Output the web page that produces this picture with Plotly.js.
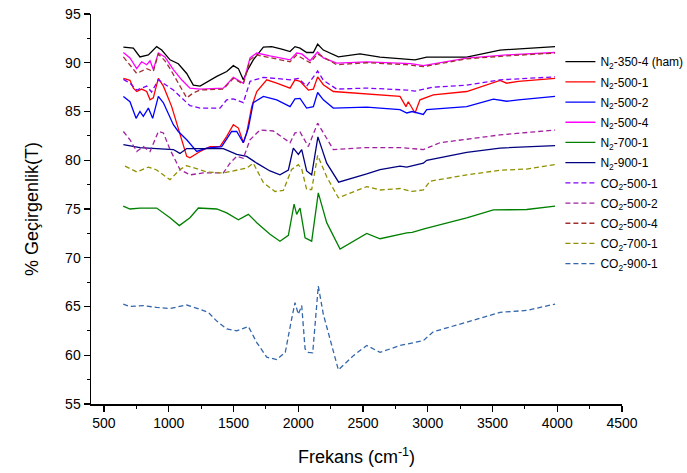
<!DOCTYPE html>
<html>
<head>
<meta charset="utf-8">
<script src="https://cdn.plot.ly/plotly-3.0.1.min.js"></script>
<style>html,body{margin:0;padding:0;background:#fff}#chart{width:687px;height:473px}</style>
</head>
<body>
<div id="chart"></div>
<script>
// Series data (wavenumber cm^-1, transmittance %)
const n2_350_4_x = [650, 727, 778, 843, 907, 946, 1010, 1074, 1139, 1190, 1242, 1306, 1371, 1448, 1499, 1538, 1576, 1615, 1653, 1731, 1795, 1873, 1937, 1975, 2014, 2065, 2117, 2150, 2194, 2310, 2477, 2632, 2902, 2992, 3301, 3558, 3764, 3983];
const n2_350_4_y = [91.6, 91.5, 90.6, 90.8, 91.65, 91.3, 90.3, 89.9, 88.9, 87.7, 87.6, 88.1, 88.6, 89.1, 89.7, 89.4, 88.25, 89.4, 90.3, 91.6, 91.65, 91.4, 91.15, 91.65, 91.5, 91.05, 91.05, 91.9, 91.3, 90.6, 90.9, 90.57, 90.3, 90.57, 90.57, 91.3, 91.5, 91.66];

const n2_500_1_x = [650, 701, 727, 753, 791, 830, 856, 881, 920, 959, 1023, 1087, 1139, 1164, 1242, 1319, 1396, 1448, 1499, 1538, 1576, 1602, 1641, 1680, 1757, 1834, 1937, 1975, 2014, 2078, 2117, 2150, 2194, 2271, 2529, 2786, 2832, 2850, 2902, 2940, 3043, 3301, 3558, 3610, 3700, 3983];
const n2_500_1_y = [88.4, 88.2, 87.4, 87.05, 87.3, 87.05, 86.2, 86.4, 88.4, 87.6, 85.5, 82.8, 80.4, 80.25, 80.9, 81.4, 81.4, 82.45, 83.65, 83.3, 81.8, 82.8, 85.5, 87.05, 88.25, 87.9, 87.4, 88.25, 88.1, 87.2, 87.3, 88.55, 87.75, 87.05, 86.8, 86.55, 85.5, 86.0, 84.85, 86.2, 86.7, 87.05, 88.18, 87.9, 88.1, 88.4];

const n2_500_2_x = [650, 701, 748, 778, 804, 843, 876, 920, 959, 1036, 1074, 1139, 1216, 1293, 1409, 1448, 1486, 1525, 1576, 1615, 1653, 1731, 1834, 1937, 1975, 2014, 2065, 2117, 2150, 2194, 2271, 2529, 2786, 2838, 2880, 2966, 2992, 3301, 3507, 3610, 3700, 3983];
const n2_500_2_y = [86.55, 86.0, 84.3, 85.0, 84.5, 85.35, 84.3, 86.55, 85.9, 83.65, 82.95, 82.1, 80.9, 81.25, 81.4, 82.2, 82.95, 82.95, 81.8, 83.3, 85.9, 86.55, 86.2, 85.5, 86.3, 86.35, 85.35, 85.5, 86.95, 86.2, 85.35, 85.45, 85.2, 84.85, 85.0, 84.7, 85.2, 85.5, 86.26, 86.05, 86.2, 86.55];

const n2_500_4_x = [650, 701, 753, 791, 830, 856, 881, 920, 971, 1036, 1100, 1164, 1242, 1422, 1499, 1576, 1628, 1680, 1782, 1937, 1988, 2027, 2091, 2150, 2194, 2297, 2529, 2838, 2870, 2966, 3301, 3610, 3983];
const n2_500_4_y = [91.05, 90.5, 89.4, 90.1, 89.8, 90.2, 89.3, 91.0, 90.6, 89.3, 88.25, 87.4, 87.3, 87.4, 88.5, 87.9, 90.5, 91.0, 90.7, 90.3, 91.0, 90.9, 90.2, 91.1, 90.5, 89.96, 90.1, 89.96, 89.9, 89.7, 90.47, 90.8, 91.05];

const n2_700_1_x = [649, 701, 778, 907, 1010, 1082, 1164, 1229, 1371, 1448, 1538, 1615, 1680, 1782, 1859, 1924, 1968, 1988, 2014, 2053, 2104, 2155, 2220, 2323, 2529, 2632, 2838, 2880, 2979, 3301, 3507, 3764, 3983];
const n2_700_1_y = [75.3, 75.0, 75.1, 75.1, 74.1, 73.3, 74.1, 75.1, 75.0, 74.6, 73.9, 74.45, 73.6, 72.4, 71.7, 72.3, 75.5, 74.45, 75.1, 72.05, 71.7, 76.65, 73.6, 70.9, 72.5, 71.95, 72.55, 72.6, 72.98, 74.1, 74.9, 74.95, 75.3];

const n2_900_1_x = [650, 778, 1036, 1087, 1139, 1422, 1525, 1602, 1680, 1782, 1859, 1924, 1962, 2001, 2027, 2065, 2104, 2152, 2220, 2312, 2529, 2632, 2786, 2838, 2966, 2992, 3301, 3558, 3983];
const n2_900_1_y = [81.6, 81.3, 81.1, 80.7, 81.2, 81.2, 80.6, 80.4, 79.7, 78.9, 78.5, 79.0, 81.25, 80.6, 81.1, 78.9, 78.5, 82.4, 79.7, 77.75, 78.6, 79.05, 79.4, 79.3, 79.7, 80.0, 80.8, 81.25, 81.5];

const co2_500_1_x = [650, 701, 753, 791, 830, 868, 920, 1036, 1164, 1242, 1396, 1448, 1499, 1576, 1628, 1731, 1937, 2001, 2065, 2150, 2194, 2297, 2529, 2838, 2902, 3043, 3301, 3558, 3983];
const co2_500_1_y = [88.3, 87.9, 87.2, 87.4, 87.6, 87.0, 88.25, 87.2, 85.6, 85.35, 85.35, 86.2, 86.3, 85.9, 88.1, 88.5, 88.25, 88.4, 87.6, 89.15, 88.2, 87.3, 87.4, 87.2, 87.1, 87.5, 87.7, 88.25, 88.55];

const co2_500_2_x = [650, 701, 753, 804, 856, 920, 959, 1010, 1087, 1164, 1267, 1422, 1473, 1525, 1576, 1628, 1705, 1808, 1937, 1975, 2014, 2078, 2150, 2194, 2271, 2529, 2786, 2966, 3095, 3558, 3983];
const co2_500_2_y = [82.95, 82.1, 80.9, 81.4, 80.9, 82.95, 82.8, 81.1, 79.05, 78.5, 78.7, 78.7, 79.7, 80.4, 80.2, 82.1, 83.1, 83.0, 81.8, 82.8, 82.9, 81.4, 83.8, 82.8, 81.1, 81.3, 81.3, 81.1, 81.8, 82.6, 83.1];

const co2_500_4_x = [650, 701, 753, 830, 881, 920, 971, 1010, 1087, 1139, 1190, 1242, 1422, 1499, 1576, 1628, 1680, 1782, 1937, 1988, 2091, 2150, 2297, 2529, 2838, 2966, 3301, 3610, 3983];
const co2_500_4_y = [90.6, 89.8, 88.9, 89.4, 89.1, 90.9, 90.2, 89.4, 87.6, 86.4, 86.9, 87.2, 87.3, 88.4, 87.8, 90.3, 90.8, 90.5, 90.1, 90.8, 90.0, 90.9, 89.8, 90.0, 89.8, 89.6, 90.4, 90.7, 91.0];

const co2_700_1_x = [663, 753, 843, 907, 1010, 1087, 1139, 1293, 1422, 1602, 1653, 1731, 1821, 1885, 1949, 2001, 2027, 2065, 2104, 2150, 2220, 2310, 2529, 2632, 2786, 2880, 2966, 3018, 3301, 3558, 3764, 3983];
const co2_700_1_y = [79.4, 78.8, 79.3, 79.0, 78.0, 79.05, 79.45, 78.8, 78.7, 79.2, 79.7, 77.7, 76.8, 76.9, 79.05, 79.55, 79.1, 77.0, 77.0, 80.5, 78.3, 76.15, 77.3, 76.95, 77.1, 76.8, 76.95, 77.85, 78.5, 78.97, 79.1, 79.55];

const co2_900_1_x = [649, 701, 804, 907, 1010, 1139, 1242, 1306, 1371, 1448, 1525, 1615, 1680, 1757, 1834, 1900, 1949, 1975, 2001, 2027, 2053, 2078, 2112, 2155, 2194, 2250, 2310, 2426, 2529, 2632, 2786, 2966, 3043, 3301, 3558, 3764, 3983];
const co2_900_1_y = [65.25, 65.0, 65.1, 64.9, 64.8, 65.15, 64.7, 64.4, 63.5, 62.7, 62.5, 62.95, 61.3, 59.8, 59.55, 60.3, 63.7, 65.4, 64.2, 65.1, 60.65, 60.3, 60.25, 67.1, 64.2, 61.5, 58.5, 59.96, 61.0, 60.3, 61.0, 61.5, 62.4, 63.4, 64.4, 64.6, 65.25];

const seriesNames = ['N<sub>2</sub>-350-4 (ham)', 'N<sub>2</sub>-500-1', 'N<sub>2</sub>-500-2', 'N<sub>2</sub>-500-4', 'N<sub>2</sub>-700-1', 'N<sub>2</sub>-900-1',
  'CO<sub>2</sub>-500-1', 'CO<sub>2</sub>-500-2', 'CO<sub>2</sub>-500-4', 'CO<sub>2</sub>-700-1', 'CO<sub>2</sub>-900-1'];
const xTickVals = [500, 1000, 1500, 2000, 2500, 3000, 3500, 4000, 4500];
const yTickVals = [55, 60, 65, 70, 75, 80, 85, 90, 95];

const xs = [n2_350_4_x, n2_500_1_x, n2_500_2_x, n2_500_4_x, n2_700_1_x, n2_900_1_x, co2_500_1_x, co2_500_2_x, co2_500_4_x, co2_700_1_x, co2_900_1_x];
const ys = [n2_350_4_y, n2_500_1_y, n2_500_2_y, n2_500_4_y, n2_700_1_y, n2_900_1_y, co2_500_1_y, co2_500_2_y, co2_500_4_y, co2_700_1_y, co2_900_1_y];
const colors = ['#000000', '#ff0000', '#0000ff', '#ff00ff', '#008000', '#000080', '#8000ff', '#a020a0', '#a03030', '#909000', '#3366aa'];
const dashes = ['solid', 'solid', 'solid', 'solid', 'solid', 'solid', '5px,3px', '5px,3px', '5px,3px', '5px,3px', '5px,3px'];

const traces = xs.map((x, i) => ({
  x: x, y: ys[i], type: 'scatter', mode: 'lines', name: seriesNames[i], legendgroup: 'g' + i,
  line: {color: colors[i], width: 1.3, dash: dashes[i]}
}));

const font = 'Arial, "Liberation Sans", sans-serif';
const layout = {
  width: 687, height: 473,
  margin: {l: 91, r: 65, t: 14, b: 69, autoexpand: false},
  paper_bgcolor: '#ffffff', plot_bgcolor: '#ffffff',
  font: {family: font, color: '#000000', size: 14},
  showlegend: true,
  legend: {x: 0.884, y: 0.915, xanchor: 'left', yanchor: 'top', bgcolor: 'rgba(0,0,0,0)',
    font: {family: font, size: 12, color: '#000'}, tracegroupgap: 1.2, itemwidth: 30},
  xaxis: {
    range: [400, 4500], tickvals: xTickVals, ticks: 'outside', ticklen: 6, tickwidth: 1.3, tickcolor: '#000',
    showline: true, linecolor: '#000', linewidth: 1.5, showgrid: false, zeroline: false,
    tickfont: {family: font, size: 14},
    minor: {dtick: 250, tick0: 500, ticks: 'outside', ticklen: 3, tickwidth: 1, tickcolor: '#000', showgrid: false},
    title: {text: 'Frekans (cm<sup>-1</sup>)', font: {family: font, size: 18}, standoff: 20}
  },
  yaxis: {
    range: [55, 95], tickvals: yTickVals, ticks: 'outside', ticklen: 6, tickwidth: 1.3, tickcolor: '#000',
    showline: true, linecolor: '#000', linewidth: 1.5, showgrid: false, zeroline: false,
    tickfont: {family: font, size: 14},
    minor: {dtick: 2.5, tick0: 55, ticks: 'outside', ticklen: 3, tickwidth: 1, tickcolor: '#000', showgrid: false},
    title: {text: '% Geçirgenlik(T)', font: {family: font, size: 18}, standoff: 22}
  }
};

Plotly.newPlot('chart', traces, layout, {displayModeBar: false, staticPlot: true});
</script>
</body>
</html>
